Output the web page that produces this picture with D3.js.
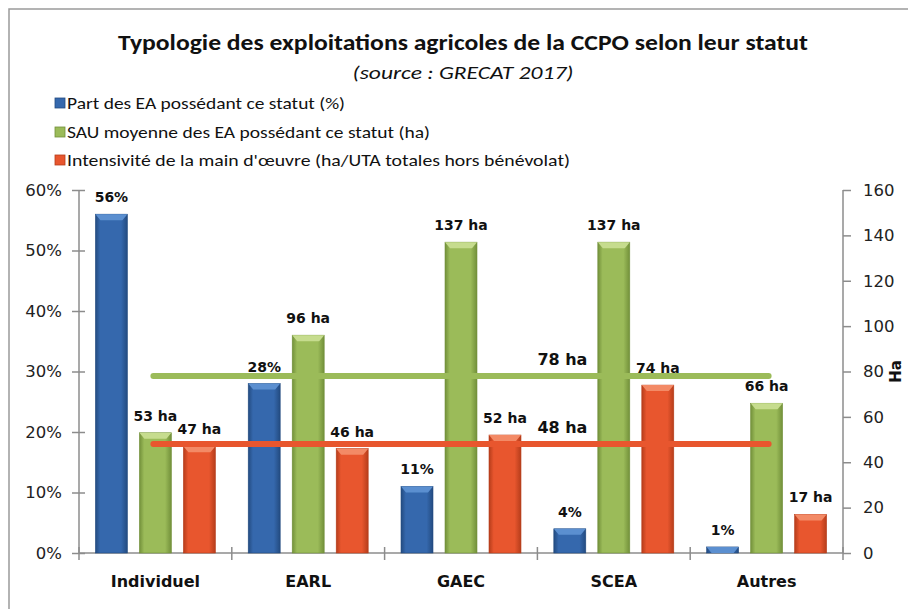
<!DOCTYPE html>
<html>
<head>
<meta charset="utf-8">
<script src="https://cdn.jsdelivr.net/npm/d3@7"></script>
<style>
  body { margin: 0; background: #fff; }
  svg { display: block; }
</style>
</head>
<body>
<svg id="chart" width="908" height="609"></svg>
<script>
// Data
const categories = ["Individuel", "EARL", "GAEC", "SCEA", "Autres"];
const partEA = [56, 28, 11, 4, 1];          // % (left axis)
const sauMoyenne = [53, 96, 137, 137, 66];  // ha (right axis)
const intensite = [47, 46, 52, 74, 17];     // ha/UTA (right axis)
const avgSau = 78;        // green line
const avgIntensite = 48;  // red line
const leftTicks = [0, 10, 20, 30, 40, 50, 60];
const rightTicks = [0, 20, 40, 60, 80, 100, 120, 140, 160];

const seriesNames = [
  "Part des EA possédant ce statut (%)",
  "SAU moyenne des EA possédant ce statut (ha)",
  "Intensivité de la main d'œuvre (ha/UTA totales hors bénévolat)"
];
const seriesKeys = ["part", "sau", "int"];

// Layout
const plot = { left: 79, right: 843, top: 190, bottom: 553 };
const axisFont = "'DejaVu Sans', Verdana, sans-serif";
const calibri = "Carlito, 'Liberation Sans Narrow', 'Liberation Sans', Arial, sans-serif";

const svg = d3.select("#chart");

// Colours: [light, main, dark]
const colors = {
  part: ["#5b8fd0", "#3568ad", "#234b80"],
  sau:  ["#c6dc8e", "#9bbb59", "#72903a"],
  int:  ["#f38a66", "#e8562e", "#b63d1b"]
};

const defs = svg.append("defs");
seriesKeys.forEach(k => {
  const g = defs.append("linearGradient").attr("id", "grad-" + k)
    .attr("x1", 0).attr("x2", 1).attr("y1", 0).attr("y2", 0);
  g.append("stop").attr("offset", "0%").attr("stop-color", colors[k][2]);
  g.append("stop").attr("offset", "15%").attr("stop-color", colors[k][1]);
  g.append("stop").attr("offset", "80%").attr("stop-color", colors[k][1]);
  g.append("stop").attr("offset", "100%").attr("stop-color", colors[k][2]);
});

// Frame
svg.append("rect")
  .attr("x", 9).attr("y", 9)
  .attr("width", 920).attr("height", 620)
  .attr("fill", "none")
  .attr("stroke", "#9a9a9a")
  .attr("stroke-width", 1.5);

// Title
svg.append("text")
  .attr("x", 463).attr("y", 50)
  .attr("text-anchor", "middle")
  .attr("textLength", 690).attr("lengthAdjust", "spacingAndGlyphs")
  .style("font-family", calibri)
  .style("font-size", "22px")
  .style("font-weight", "bold")
  .style("fill", "#111")
  .text("Typologie des exploitations agricoles de la CCPO selon leur statut");

svg.append("text")
  .attr("x", 463).attr("y", 79)
  .attr("text-anchor", "middle")
  .attr("textLength", 221).attr("lengthAdjust", "spacingAndGlyphs")
  .style("font-family", calibri)
  .style("font-size", "19px")
  .style("font-style", "italic")
  .style("fill", "#111")
  .text("(source : GRECAT 2017)");

// Legend
const legendY = [103, 132, 160];
const legendW = [278, 363, 503];
seriesKeys.forEach((k, i) => {
  svg.append("rect")
    .attr("x", 55).attr("y", legendY[i] - 5)
    .attr("width", 10).attr("height", 10)
    .attr("fill", colors[k][1])
    .attr("stroke", colors[k][2]).attr("stroke-width", 0.8);
  svg.append("text")
    .attr("x", 67).attr("y", legendY[i] + 6)
    .attr("textLength", legendW[i]).attr("lengthAdjust", "spacingAndGlyphs")
    .style("font-family", calibri)
    .style("font-size", "17px")
    .style("fill", "#111")
    .text(seriesNames[i]);
});

// Scales
const x0 = d3.scaleBand().domain(categories).range([plot.left, plot.right]).padding(0);
const x1 = d3.scaleBand().domain(seriesKeys).range([0, x0.bandwidth()])
  .paddingInner(0.273).paddingOuter(0.373);
const yLeft = d3.scaleLinear().domain([0, 60]).range([plot.bottom, plot.top]);
const yRight = d3.scaleLinear().domain([0, 160]).range([plot.bottom, plot.top]);

// Left axis
const leftAxis = svg.append("g")
  .attr("transform", `translate(${plot.left},0)`)
  .call(d3.axisLeft(yLeft).tickValues(leftTicks).tickSize(7).tickPadding(10)
    .tickFormat(d => d + "%"));
leftAxis.selectAll(".tick line").attr("x2", 6).attr("x1", -7);
// extend tick lines across the axis
leftAxis.selectAll(".tick line").attr("x1", -7).attr("x2", 6);

// Right axis
const rightAxis = svg.append("g")
  .attr("transform", `translate(${plot.right},0)`)
  .call(d3.axisRight(yRight).tickValues(rightTicks).tickSize(8).tickPadding(12));

// Bottom axis (category separators)
const bottomAxis = svg.append("g")
  .attr("transform", `translate(0,${plot.bottom})`);
bottomAxis.append("line")
  .attr("x1", plot.left).attr("x2", plot.right);
bottomAxis.selectAll(".sep")
  .data(categories.map((c, i) => i).concat([categories.length]))
  .join("line")
  .attr("class", "sep")
  .attr("x1", i => i < categories.length ? x0(categories[i]) : plot.right)
  .attr("x2", i => i < categories.length ? x0(categories[i]) : plot.right)
  .attr("y1", -6).attr("y2", 7);
bottomAxis.selectAll(".cat")
  .data(categories)
  .join("text")
  .attr("class", "cat")
  .attr("x", d => x0(d) + x0.bandwidth() / 2)
  .attr("y", 34)
  .attr("text-anchor", "middle")
  .style("font-family", axisFont)
  .style("font-size", "16px")
  .style("font-weight", "bold")
  .style("fill", "#111")
  .text(d => d);

[leftAxis, rightAxis, bottomAxis].forEach(a => {
  a.select(".domain").attr("stroke", "#8c8c8c").attr("stroke-width", 1.5);
  a.selectAll("line").attr("stroke", "#8c8c8c").attr("stroke-width", 1.5);
  a.selectAll(".tick text")
    .style("font-family", axisFont)
    .style("font-size", "16.5px")
    .style("fill", "#222");
});
leftAxis.select(".domain").attr("d", `M0,${plot.top}V${plot.bottom}`);
rightAxis.select(".domain").attr("d", `M0,${plot.top}V${plot.bottom}`);

// Bars
const rows = categories.map((c, i) => ({
  cat: c,
  values: [
    { key: "part", v: partEA[i], y: yLeft, label: partEA[i] + "%" },
    { key: "sau", v: sauMoyenne[i], y: yRight, label: sauMoyenne[i] + " ha" },
    { key: "int", v: intensite[i], y: yRight, label: intensite[i] + " ha" }
  ]
}));

const groups = svg.append("g").selectAll("g")
  .data(rows)
  .join("g")
  .attr("transform", d => `translate(${x0(d.cat)},0)`);

const bars = groups.selectAll("g.bar")
  .data(d => d.values)
  .join("g")
  .attr("class", "bar");

bars.append("rect")
  .attr("x", d => x1(d.key))
  .attr("y", d => d.y(d.v))
  .attr("width", x1.bandwidth())
  .attr("height", d => plot.bottom - d.y(d.v))
  .attr("fill", d => `url(#grad-${d.key})`)
  .attr("stroke", d => colors[d.key][2])
  .attr("stroke-width", 0.6);

// bevel on top of each bar
bars.append("path")
  .attr("d", d => {
    const x = x1(d.key), w = x1.bandwidth(), t = d.y(d.v);
    const h = Math.min(6, plot.bottom - t);
    return `M${x},${t}H${x + w}L${x + w - 5},${t + h}H${x + 5}Z`;
  })
  .attr("fill", d => colors[d.key][0]);

bars.append("text")
  .attr("x", d => x1(d.key) + x1.bandwidth() / 2)
  .attr("y", d => d.y(d.v) - 12)
  .attr("text-anchor", "middle")
  .style("font-family", axisFont)
  .style("font-size", "14px")
  .style("font-weight", "bold")
  .style("fill", "#111")
  .text(d => d.label);

// Average lines
const lineX1 = x0(categories[0]) + x1("sau") + x1.bandwidth() / 2;
const lineX2 = x0(categories[categories.length - 1]) + x1("sau") + x1.bandwidth() / 2;
const avgLines = [
  { v: avgSau, color: colors.sau[1], label: avgSau + " ha" },
  { v: avgIntensite, color: colors.int[1], label: avgIntensite + " ha" }
];
svg.append("g").selectAll("line")
  .data(avgLines)
  .join("line")
  .attr("x1", lineX1 - 2).attr("x2", lineX2 + 2)
  .attr("y1", d => yRight(d.v)).attr("y2", d => yRight(d.v))
  .attr("stroke", d => d.color)
  .attr("stroke-width", 6)
  .attr("stroke-linecap", "round");

svg.append("g").selectAll("text")
  .data(avgLines)
  .join("text")
  .attr("x", x0("SCEA") + 25)
  .attr("y", d => yRight(d.v) - 11)
  .attr("text-anchor", "middle")
  .style("font-family", axisFont)
  .style("font-size", "16px")
  .style("font-weight", "bold")
  .style("fill", "#111")
  .text(d => d.label);

// Right axis title
svg.append("text")
  .attr("transform", `translate(901,${yRight(80)}) rotate(-90)`)
  .attr("text-anchor", "middle")
  .style("font-family", axisFont)
  .style("font-size", "15px")
  .style("font-weight", "bold")
  .style("fill", "#111")
  .text("Ha");
</script>
</body>
</html>
